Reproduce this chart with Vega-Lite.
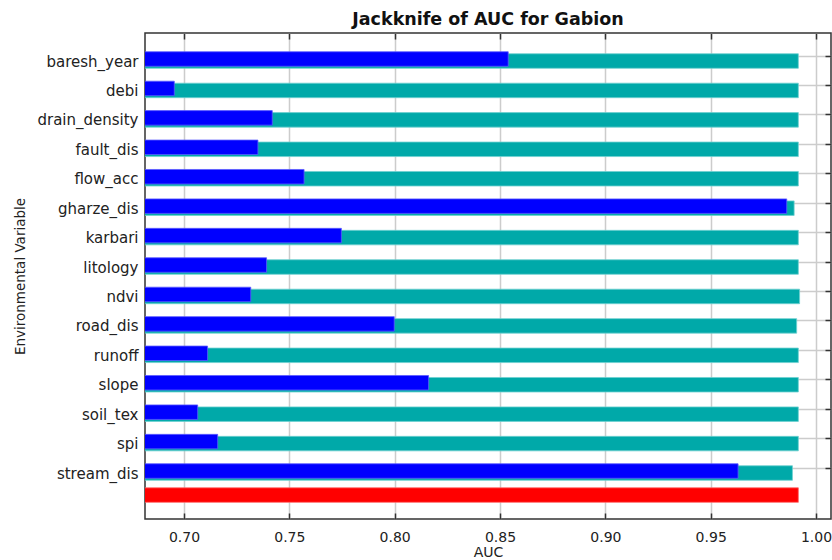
{
  "$schema": "https://vega.github.io/schema/vega-lite/v6.json",
  "width": 686,
  "height": 486,
  "autosize": {"type": "none"},
  "padding": {"left": 145, "top": 33, "right": 1, "bottom": 41},
  "background": "#ffffff",
  "title": {"text": "Jackknife of AUC for Gabion", "font": "DejaVu Sans", "fontSize": 17.5, "fontWeight": "bold", "color": "#111111", "anchor": "middle", "offset": 4},
  "config": {
    "view": {"stroke": "#333333", "strokeWidth": 1.5},
    "axis": {"labelFont": "DejaVu Sans", "titleFont": "DejaVu Sans", "labelColor": "#222222", "titleColor": "#222222", "tickColor": "#333333", "tickWidth": 1.5, "gridColor": "#cccccc", "gridWidth": 1.5, "domain": false}
  },
  "datasets": {
    "jk": [
      {"variable": "baresh_year", "test": "Without variable", "auc": 0.9916},
      {"variable": "baresh_year", "test": "With only variable", "auc": 0.8539},
      {"variable": "debi", "test": "Without variable", "auc": 0.9916},
      {"variable": "debi", "test": "With only variable", "auc": 0.6954},
      {"variable": "drain_density", "test": "Without variable", "auc": 0.9916},
      {"variable": "drain_density", "test": "With only variable", "auc": 0.7419},
      {"variable": "fault_dis", "test": "Without variable", "auc": 0.9916},
      {"variable": "fault_dis", "test": "With only variable", "auc": 0.7351},
      {"variable": "flow_acc", "test": "Without variable", "auc": 0.9916},
      {"variable": "flow_acc", "test": "With only variable", "auc": 0.757},
      {"variable": "gharze_dis", "test": "Without variable", "auc": 0.9896},
      {"variable": "gharze_dis", "test": "With only variable", "auc": 0.9861},
      {"variable": "karbari", "test": "Without variable", "auc": 0.9916},
      {"variable": "karbari", "test": "With only variable", "auc": 0.7747},
      {"variable": "litology", "test": "Without variable", "auc": 0.9916},
      {"variable": "litology", "test": "With only variable", "auc": 0.7392},
      {"variable": "ndvi", "test": "Without variable", "auc": 0.9922},
      {"variable": "ndvi", "test": "With only variable", "auc": 0.7317},
      {"variable": "road_dis", "test": "Without variable", "auc": 0.9908},
      {"variable": "road_dis", "test": "With only variable", "auc": 0.7998},
      {"variable": "runoff", "test": "Without variable", "auc": 0.9916},
      {"variable": "runoff", "test": "With only variable", "auc": 0.7112},
      {"variable": "slope", "test": "Without variable", "auc": 0.9916},
      {"variable": "slope", "test": "With only variable", "auc": 0.8161},
      {"variable": "soil_tex", "test": "Without variable", "auc": 0.9916},
      {"variable": "soil_tex", "test": "With only variable", "auc": 0.7065},
      {"variable": "spi", "test": "Without variable", "auc": 0.9916},
      {"variable": "spi", "test": "With only variable", "auc": 0.716},
      {"variable": "stream_dis", "test": "Without variable", "auc": 0.9888},
      {"variable": "stream_dis", "test": "With only variable", "auc": 0.963},
      {"variable": "With all variables", "test": "With all variables", "auc": 0.9916}
    ]
  },
  "data": {"name": "jk"},
  "layer": [
    {
      "transform": [{"filter": "datum.test === 'Without variable'"}],
      "mark": {"type": "bar", "clip": true, "stroke": "#6fd0d0", "strokeWidth": 0.8},
      "encoding": {
        "y": {"field": "variable", "type": "nominal",
          "scale": {"domain": ["baresh_year", "debi", "drain_density", "fault_dis", "flow_acc", "gharze_dis", "karbari", "litology", "ndvi", "road_dis", "runoff", "slope", "soil_tex", "spi", "stream_dis", "With all variables"], "paddingInner": 0.507, "paddingOuter": 0.5104, "align": 0.691},
          "axis": {"orient": "left", "title": "Environmental Variable", "titleFontSize": 13.5, "titleFontWeight": "normal", "titlePadding": 9, "labelFontSize": 15, "labelPadding": 7, "ticks": false, "grid": true, "bandPosition": 0.155, "labelOffset": 0.5,
            "values": ["baresh_year", "debi", "drain_density", "fault_dis", "flow_acc", "gharze_dis", "karbari", "litology", "ndvi", "road_dis", "runoff", "slope", "soil_tex", "spi", "stream_dis"]}},
        "x": {"field": "auc", "type": "quantitative",
          "scale": {"domain": [0.6815, 1.0071], "nice": false, "zero": false},
          "axis": {"orient": "bottom", "title": "AUC", "titleFontSize": 14, "titleFontWeight": "normal", "titlePadding": 1, "labelFontSize": 14, "labelPadding": 17, "tickSize": -6, "grid": true, "format": ".2f", "values": [0.70, 0.75, 0.80, 0.85, 0.90, 0.95, 1.00]}},
        "color": {"field": "test", "type": "nominal", "legend": null,
          "scale": {"domain": ["Without variable", "With only variable", "With all variables"], "range": ["#00a9a9", "#0000ff", "#ff0000"]}}
      }
    },
    {
      "transform": [{"filter": "datum.test === 'With only variable'"}],
      "mark": {"type": "bar", "clip": true, "yOffset": -2, "stroke": "#5a5aff", "strokeWidth": 0.8},
      "encoding": {
        "y": {"field": "variable", "type": "nominal",
          "axis": {"orient": "right", "title": null, "labels": false, "ticks": true, "tickSize": -6, "grid": false, "bandPosition": 0.155,
            "values": ["baresh_year", "debi", "drain_density", "fault_dis", "flow_acc", "gharze_dis", "karbari", "litology", "ndvi", "road_dis", "runoff", "slope", "soil_tex", "spi", "stream_dis"]}},
        "x": {"field": "auc", "type": "quantitative",
          "axis": {"orient": "top", "title": null, "labels": false, "ticks": true, "tickSize": -6, "grid": false, "values": [0.70, 0.75, 0.80, 0.85, 0.90, 0.95, 1.00]}},
        "color": {"field": "test", "type": "nominal", "legend": null}
      }
    },
    {
      "transform": [{"filter": "datum.test === 'With all variables'"}],
      "mark": {"type": "bar", "clip": true, "yOffset": -7.4, "stroke": "#ff6a6a", "strokeWidth": 0.8},
      "encoding": {
        "y": {"field": "variable", "type": "nominal", "axis": null},
        "x": {"field": "auc", "type": "quantitative", "axis": null},
        "color": {"field": "test", "type": "nominal", "legend": null}
      }
    }
  ],
  "resolve": {"axis": {"x": "independent", "y": "independent"}}
}
